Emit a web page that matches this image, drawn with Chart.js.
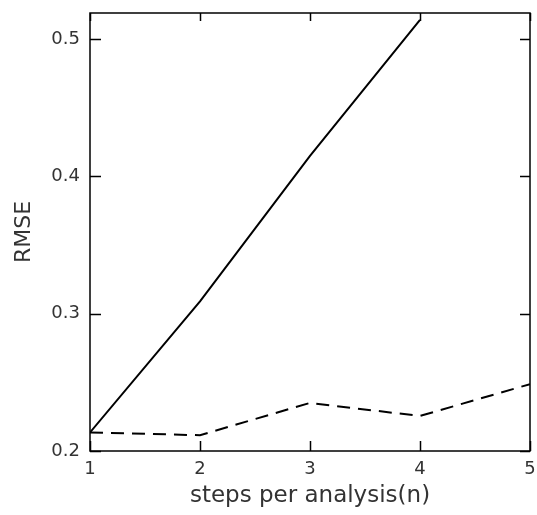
<!DOCTYPE html>
<html>
<head>
<meta charset="utf-8">
<script src="https://cdn.jsdelivr.net/npm/chart.js@4/dist/chart.umd.min.js"></script>
<style>
  html, body { margin: 0; padding: 0; background: #fff; }
  #wrap { width: 537px; height: 515px; position: relative; }
</style>
</head>
<body>
<div id="wrap"><canvas id="c" width="537" height="515"></canvas></div>
<script>
// steps per analysis
const steps = [1, 2, 3, 4, 5];
// RMSE, solid curve (leaves the plot after n = 4)
const rmseSolid = [0.2135, 0.309, 0.415, 0.514, null];
// RMSE, dashed curve
const rmseDashed = [0.2135, 0.2115, 0.235, 0.2255, 0.2487];
// axis tick values
const xTicks = [1, 2, 3, 4, 5];
const yTicks = [0.2, 0.3, 0.4, 0.5];

const toPoints = vals => steps.map((s, i) => ({ x: s, y: vals[i] }));

// Frame box with inward tick marks on all four sides
const framePlugin = {
  id: 'frame',
  afterDraw(chart) {
    const { ctx, chartArea: a, scales } = chart;
    ctx.save();
    ctx.strokeStyle = '#000';
    ctx.lineWidth = 1.5;
    ctx.strokeRect(a.left, a.top, a.right - a.left, a.bottom - a.top);
    ctx.beginPath();
    scales.x.ticks.forEach(t => {
      const px = Math.round(scales.x.getPixelForValue(t.value)) + 0.5;
      ctx.moveTo(px, a.bottom); ctx.lineTo(px, a.bottom - 10);
      ctx.moveTo(px, a.top); ctx.lineTo(px, a.top + 8);
    });
    scales.y.ticks.forEach(t => {
      const py = Math.round(scales.y.getPixelForValue(t.value)) + 0.5;
      ctx.moveTo(a.left, py); ctx.lineTo(a.left + 11, py);
      ctx.moveTo(a.right, py); ctx.lineTo(a.right - 10, py);
    });
    ctx.stroke();
    ctx.restore();
  }
};

new Chart(document.getElementById('c'), {
  type: 'line',
  data: {
    datasets: [
      {
        data: toPoints(rmseSolid),
        borderColor: '#000',
        borderWidth: 2,
        pointRadius: 0,
        tension: 0,
        spanGaps: false
      },
      {
        data: toPoints(rmseDashed),
        borderColor: '#000',
        borderWidth: 2,
        borderDash: [13, 8],
        pointRadius: 0,
        tension: 0
      }
    ]
  },
  options: {
    responsive: false,
    animation: false,
    events: [],
    layout: { padding: { top: 13, right: 7, left: 0, bottom: 0 } },
    plugins: { legend: { display: false }, tooltip: { enabled: false } },
    scales: {
      x: {
        type: 'linear',
        min: 1, max: 5,
        afterBuildTicks: s => { s.ticks = xTicks.map(v => ({ value: v })); },
        afterFit: s => { s.height = 64; s.paddingLeft = 0; s.paddingRight = 0; },
        grid: { display: false, drawTicks: false },
        border: { display: false },
        ticks: {
          padding: 8,
          color: '#333',
          font: { family: 'DejaVu Sans', size: 18 },
          callback: v => String(v)
        },
        title: {
          display: true,
          text: 'steps per analysis(n)',
          color: '#333',
          font: { family: 'DejaVu Sans', size: 23 },
          padding: { top: 0, bottom: 5 }
        }
      },
      y: {
        type: 'linear',
        min: 0.2, max: 0.519,
        afterBuildTicks: s => { s.ticks = yTicks.map(v => ({ value: v })); },
        afterFit: s => { s.width = 90; s.paddingTop = 0; s.paddingBottom = 0; },
        grid: { display: false, drawTicks: false },
        border: { display: false },
        ticks: {
          padding: 10,
          color: '#333',
          font: { family: 'DejaVu Sans', size: 18 },
          callback: v => Number(v).toFixed(1)
        },
        title: {
          display: true,
          text: 'RMSE',
          color: '#333',
          font: { family: 'DejaVu Sans', size: 22 },
          padding: { top: 11, bottom: 0 }
        }
      }
    }
  },
  plugins: [framePlugin]
});
</script>
</body>
</html>
